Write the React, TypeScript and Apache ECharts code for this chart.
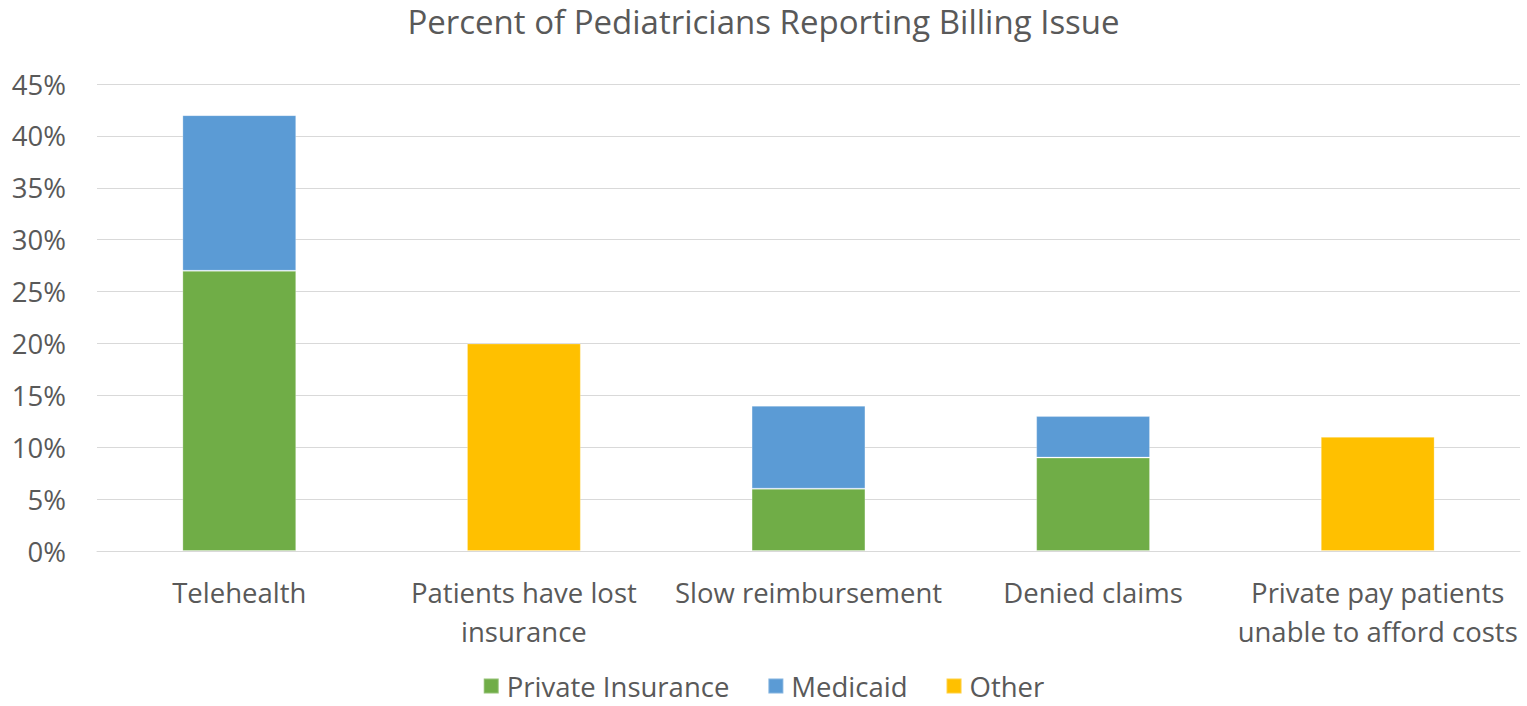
import React, { useEffect, useRef } from "react";
import * as echarts from "echarts";

const categories = [
  "Telehealth",
  "Patients have lost\ninsurance",
  "Slow reimbursement",
  "Denied claims",
  "Private pay patients\nunable to afford costs",
];
const privateInsurance: (number | null)[] = [27, null, 6, 9, null];
const medicaid: (number | null)[] = [15, null, 8, 4, null];
const other: (number | null)[] = [null, 20, null, null, 11];
const yTicks = { min: 0, max: 45, interval: 5 };

const FONT = "'Open Sans', 'Liberation Sans', sans-serif";
const TEXT = "#595959";

export default function App() {
  const ref = useRef<HTMLDivElement>(null);
  useEffect(() => {
    if (!ref.current) return;
    const chart = echarts.init(ref.current, null, { renderer: "svg" });
    const barCommon = {
      type: "bar" as const,
      stack: "total",
      barWidth: "40%",
      itemStyle: { borderColor: "rgba(255,255,255,0.25)", borderWidth: 1 },
    };
    chart.setOption({
      animation: false,
      textStyle: { fontFamily: FONT },
      title: {
        text: "Percent of Pediatricians Reporting Billing Issue",
        left: "center",
        top: 0,
        textStyle: { fontFamily: FONT, fontSize: 33, fontWeight: "normal", color: TEXT },
      },
      grid: { left: 97, right: 7, top: 84, bottom: 155 },
      xAxis: {
        type: "category",
        data: categories,
        axisLine: { show: true, lineStyle: { color: "#d9d9d9", width: 1 } },
        axisTick: { show: false },
        axisLabel: {
          interval: 0,
          color: TEXT,
          fontSize: 27.5,
          fontFamily: FONT,
          lineHeight: 39,
          margin: 22,
        },
      },
      yAxis: {
        type: "value",
        min: yTicks.min,
        max: yTicks.max,
        interval: yTicks.interval,
        axisLine: { show: false },
        axisTick: { show: false },
        splitLine: { lineStyle: { color: "#d9d9d9", width: 1 } },
        axisLabel: {
          color: TEXT,
          fontSize: 27.5,
          fontFamily: FONT,
          margin: 31,
          formatter: (v: number) => `${v}%`,
        },
      },
      legend: {
        top: 672,
        left: "center",
        padding: 0,
        itemWidth: 15,
        itemHeight: 15,
        itemGap: 38,
        icon: "rect",
        textStyle: { color: TEXT, fontSize: 27.5, lineHeight: 28, fontFamily: FONT, padding: [0, 0, 0, 3] },
        data: ["Private Insurance", "Medicaid", "Other"],
      },
      series: [
        { ...barCommon, name: "Private Insurance", data: privateInsurance, itemStyle: { ...barCommon.itemStyle, color: "#70AD47" } },
        { ...barCommon, name: "Medicaid", data: medicaid, itemStyle: { ...barCommon.itemStyle, color: "#5B9BD5" } },
        { ...barCommon, name: "Other", data: other, itemStyle: { ...barCommon.itemStyle, color: "#FFC000" } },
      ],
    });
    return () => chart.dispose();
  }, []);
  return (
    <div
      ref={ref}
      style={{ position: "fixed", left: 0, top: 0, width: 1527, height: 706, background: "#fff" }}
    />
  );
}
